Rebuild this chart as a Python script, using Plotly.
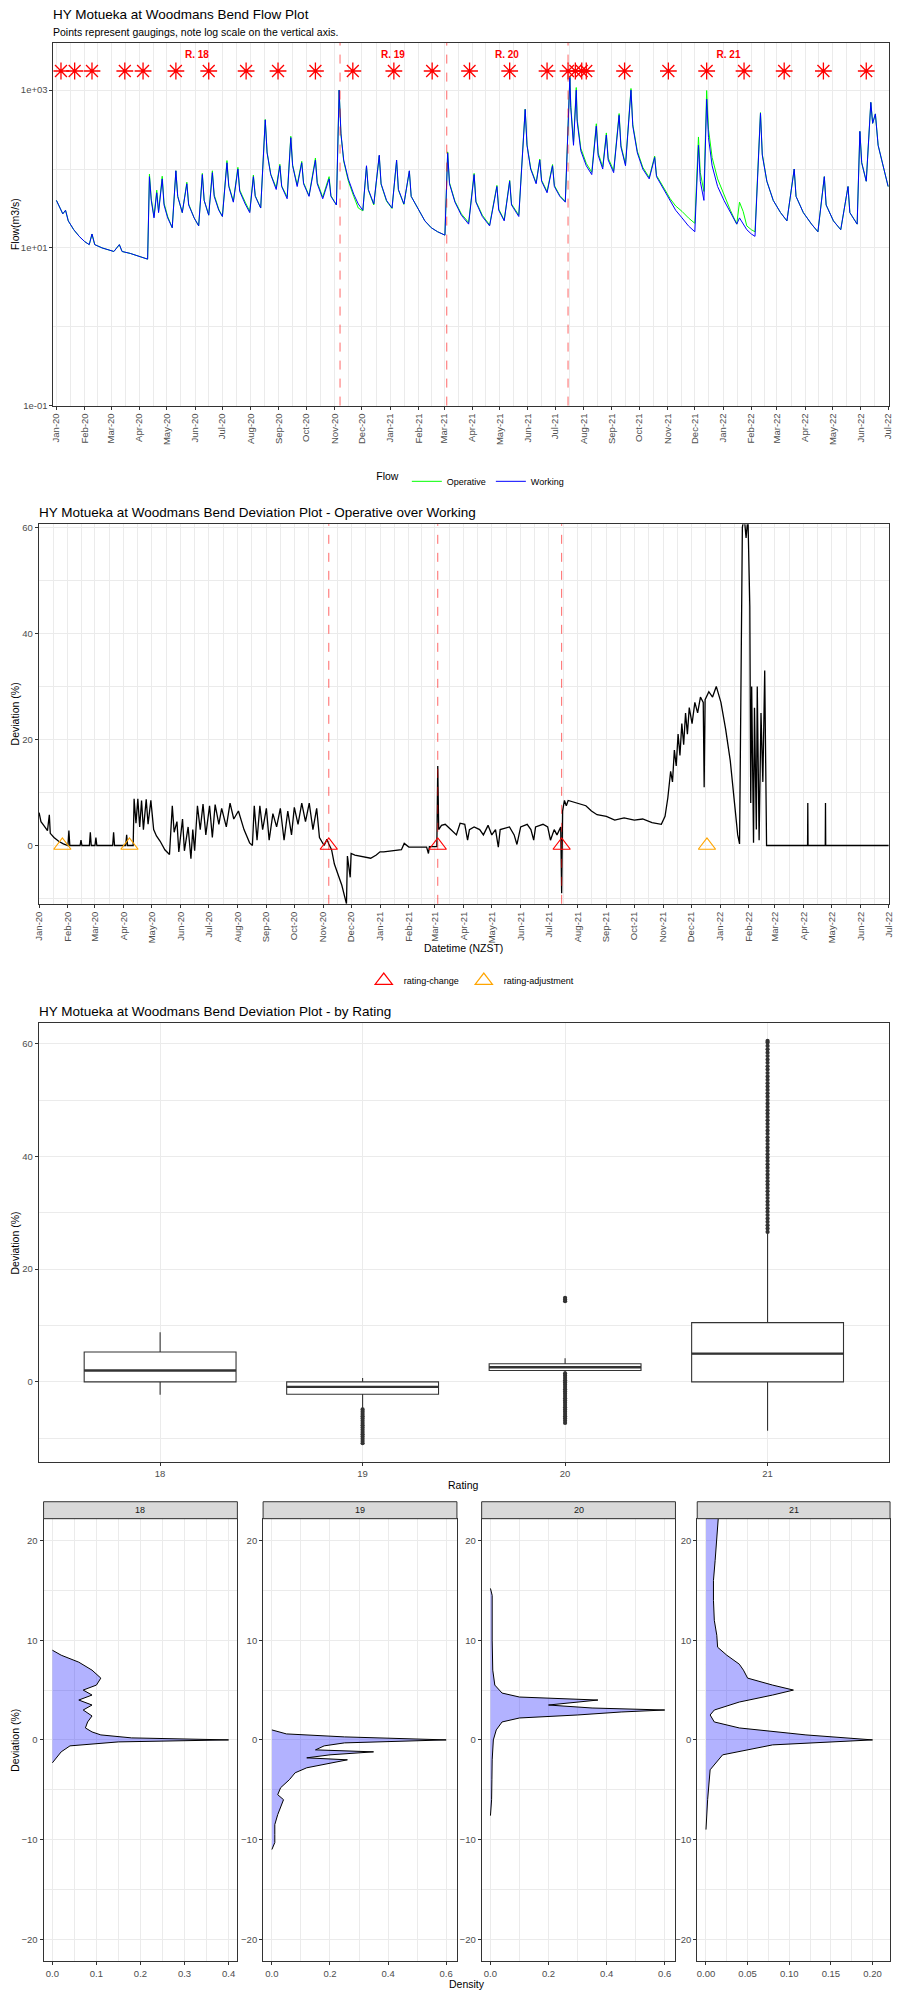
import plotly.graph_objects as go
import pandas as pd

W, H = 900, 2000
FONT = "Liberation Sans, Arial, sans-serif"
GRID = "#EBEBEB"
AXC = "#333333"
TICKC = "#4D4D4D"

# ---------------- Flow plot data ----------------
flow_dates = ["2020-01-01","2020-01-04","2020-01-08","2020-01-11","2020-01-14","2020-01-20","2020-01-26","2020-02-01","2020-02-06","2020-02-09",
"2020-02-12","2020-02-20","2020-02-27","2020-03-04","2020-03-10","2020-03-13","2020-03-22","2020-03-30","2020-04-06","2020-04-10",
"2020-04-12","2020-04-14","2020-04-17","2020-04-20","2020-04-22","2020-04-26","2020-04-28","2020-05-02","2020-05-07","2020-05-11",
"2020-05-13","2020-05-18","2020-05-23","2020-05-25","2020-05-31","2020-06-05","2020-06-09","2020-06-11","2020-06-16","2020-06-20",
"2020-06-22","2020-06-27","2020-07-01","2020-07-06","2020-07-08","2020-07-13","2020-07-18","2020-07-20","2020-07-26","2020-07-31",
"2020-08-04","2020-08-06","2020-08-12","2020-08-17","2020-08-19","2020-08-23","2020-08-29","2020-09-02","2020-09-04","2020-09-10",
"2020-09-14","2020-09-16","2020-09-21","2020-09-26","2020-09-28","2020-10-04","2020-10-11","2020-10-13","2020-10-19","2020-10-26",
"2020-10-28","2020-11-03","2020-11-06","2020-11-08","2020-11-11","2020-11-16","2020-11-22","2020-11-27","2020-12-02","2020-12-06",
"2020-12-08","2020-12-14","2020-12-20","2020-12-22","2020-12-28","2021-01-03","2021-01-08","2021-01-10","2021-01-16","2021-01-22",
"2021-01-24","2021-02-01","2021-02-08","2021-02-15","2021-02-22","2021-03-02","2021-03-05","2021-03-07","2021-03-13","2021-03-20",
"2021-03-28","2021-04-03","2021-04-05","2021-04-12","2021-04-20","2021-04-28","2021-04-30","2021-05-06","2021-05-12","2021-05-14",
"2021-05-22","2021-05-29","2021-05-31","2021-06-04","2021-06-10","2021-06-14","2021-06-16","2021-06-22","2021-06-28","2021-06-30",
"2021-07-06","2021-07-12","2021-07-15","2021-07-17","2021-07-18","2021-07-21","2021-07-24","2021-07-25","2021-07-29","2021-08-04",
"2021-08-10","2021-08-15","2021-08-17","2021-08-22","2021-08-26","2021-08-28","2021-09-03","2021-09-09","2021-09-11","2021-09-16",
"2021-09-22","2021-09-24","2021-09-29","2021-10-05","2021-10-12","2021-10-18","2021-10-20","2021-10-28","2021-11-04","2021-11-10",
"2021-11-17","2021-11-24","2021-12-01","2021-12-05","2021-12-07","2021-12-11","2021-12-14","2021-12-16","2021-12-20","2021-12-26",
"2022-01-02","2022-01-09","2022-01-16","2022-01-19","2022-01-23","2022-01-27","2022-02-01","2022-02-05","2022-02-11","2022-02-13",
"2022-02-18","2022-02-25","2022-03-05","2022-03-12","2022-03-20","2022-03-22","2022-03-30","2022-04-08","2022-04-15","2022-04-22",
"2022-04-24","2022-05-02","2022-05-10","2022-05-18","2022-05-20","2022-05-28","2022-05-31","2022-06-02","2022-06-07","2022-06-12",
"2022-06-14","2022-06-17","2022-06-20","2022-06-26","2022-07-01"]
flow_working = [40,33,27,30,22,17,14,12,11,15,
11,10,9.5,9,11,9,8.5,8,7.5,7.2,
80,40,24,50,28,75,35,24,18,95,
45,28,65,35,24,19,85,40,26,90,
45,30,25,120,60,38,100,52,36,28,
80,45,32,420,160,85,55,110,60,42,
250,110,60,120,65,45,130,65,42,75,
45,35,1000,280,130,75,48,36,30,110,
55,36,150,65,40,32,130,55,36,95,
45,30,22,18,16,14.5,160,65,38,26,
20,85,38,25,19,60,30,22,70,35,
25,570,200,100,65,130,70,50,110,60,
45,38,330,1450,600,200,1000,400,170,110,
85,350,150,100,270,130,90,480,190,110,
1000,350,160,100,75,140,80,55,40,30,
24,19,16,200,70,40,770,250,110,60,
40,28,20,24,20,17,15,14,510,150,
70,40,28,22,100,45,28,20,16,80,
35,22,17,60,28,20,300,120,70,700,
380,500,200,100,60]
flow_operative = [40,33,27,30,22,17,14,12,11,15,
11,10,9.5,9,11,9,8.5,8,7.5,7.2,
86,42,25,54,29,81,37,25,18,95,
45,28,68,36,24,19,88,40,26,95,
47,31,25,128,62,39,105,54,38,29,
84,46,32,425,165,86,58,115,61,44,
260,112,63,125,67,46,138,68,44,80,
46,35,1005,278,126,71,45,32,29.5,108,
54,35,147,64,39,31.6,128,54,35.6,94,
45,30,22,18,16,14.5,165,67,39,27,
21,88,39,26,19.5,62,31,22.5,72,36,
26,575,204,103,67,134,72,52,114,62,
46,39,300,1500,640,216,1080,432,183,118,
91,375,160,106,287,138,95,505,200,115,
1050,367,168,105,78,146,83,57,42,34,
29,24,20.5,255,90,52,990,320,140,75,
47,30,20,38,29,19,17,16,520,155,
70,40,28,22,100,45,28,20,16,80,
35,22,17,60,28,20,300,120,70,700,
380,500,200,100,60]

gauging_dates = ["2020-01-06","2020-01-21","2020-02-09","2020-03-16","2020-04-05","2020-05-11","2020-06-16","2020-07-27",
"2020-08-31","2020-10-11","2020-11-21","2021-01-05","2021-02-16","2021-03-29","2021-05-12","2021-06-22","2021-07-15",
"2021-07-23","2021-07-30","2021-08-04","2021-09-15","2021-11-02","2021-12-14","2022-01-24","2022-03-09","2022-04-21","2022-06-07"]
gauging_level = 1750

rating_change_dates = ["2020-11-07", "2021-03-04", "2021-07-15"]
rating_labels = ["R. 18", "R. 19", "R. 20", "R. 21"]
rating_label_dates = ["2020-06-03", "2021-01-04", "2021-05-09", "2022-01-07"]
rating_label_level = 2750

# ---------------- Deviation plot data ----------------
dev_dates = ["2020-01-01","2020-01-03","2020-01-06","2020-01-08","2020-01-10","2020-01-12","2020-01-13","2020-01-17","2020-01-22","2020-01-27",
"2020-02-01","2020-02-02","2020-02-03","2020-02-14","2020-02-15","2020-02-16","2020-02-24","2020-02-25","2020-02-26","2020-03-01",
"2020-03-02","2020-03-03","2020-03-20","2020-03-21","2020-03-22","2020-04-03","2020-04-04","2020-04-05","2020-04-11","2020-04-12",
"2020-04-14","2020-04-16","2020-04-18","2020-04-20","2020-04-22","2020-04-25","2020-04-27","2020-04-30","2020-05-03","2020-05-06",
"2020-05-10","2020-05-15","2020-05-20","2020-05-23","2020-05-25","2020-05-28","2020-05-30","2020-06-03","2020-06-05","2020-06-09",
"2020-06-12","2020-06-14","2020-06-16","2020-06-19","2020-06-22","2020-06-25","2020-06-28","2020-07-02","2020-07-05","2020-07-08",
"2020-07-12","2020-07-15","2020-07-20","2020-07-24","2020-07-28","2020-08-02","2020-08-08","2020-08-14","2020-08-17","2020-08-19",
"2020-08-22","2020-08-25","2020-08-28","2020-09-01","2020-09-04","2020-09-08","2020-09-12","2020-09-16","2020-09-20","2020-09-24",
"2020-09-28","2020-10-01","2020-10-05","2020-10-09","2020-10-13","2020-10-17","2020-10-21","2020-10-25","2020-10-28","2020-11-02",
"2020-11-05","2020-11-07","2020-11-10","2020-11-13","2020-11-17","2020-11-21","2020-11-26","2020-11-27","2020-11-30","2020-12-01",
"2020-12-05","2020-12-15","2020-12-22","2020-12-28","2021-01-01","2021-01-05","2021-01-15","2021-01-24","2021-01-27","2021-02-01",
"2021-02-20","2021-02-22","2021-02-23","2021-03-03","2021-03-04","2021-03-05","2021-03-08","2021-03-12","2021-03-18","2021-03-24",
"2021-03-28","2021-04-02","2021-04-05","2021-04-07","2021-04-12","2021-04-18","2021-04-22","2021-04-27","2021-05-01","2021-05-05",
"2021-05-08","2021-05-10","2021-05-20","2021-05-25","2021-05-28","2021-06-01","2021-06-08","2021-06-12","2021-06-15","2021-06-17",
"2021-06-25","2021-06-30","2021-07-03","2021-07-07","2021-07-10","2021-07-14","2021-07-15","2021-07-16","2021-07-18","2021-07-20",
"2021-07-22","2021-08-01","2021-08-10","2021-08-16","2021-08-22","2021-09-01","2021-09-10","2021-09-20","2021-10-01","2021-10-10",
"2021-10-20","2021-10-30","2021-11-03","2021-11-06","2021-11-09","2021-11-11","2021-11-13","2021-11-15","2021-11-17","2021-11-19",
"2021-11-21","2021-11-23","2021-11-25","2021-11-27","2021-11-29","2021-12-02","2021-12-05","2021-12-08","2021-12-11","2021-12-14",
"2021-12-15","2021-12-16","2021-12-20","2021-12-24","2021-12-28","2022-01-02","2022-01-07","2022-01-12","2022-01-17","2022-01-20",
"2022-01-22","2022-01-25","2022-01-27","2022-01-29","2022-01-31","2022-02-02","2022-02-03","2022-02-04","2022-02-06","2022-02-07",
"2022-02-09","2022-02-10","2022-02-12","2022-02-14","2022-02-16","2022-02-18","2022-02-20",
"2022-04-05","2022-04-05 06:00","2022-04-05 12:00","2022-04-24","2022-04-24 06:00","2022-04-24 12:00","2022-07-01"]
dev_values = [6.2,4.5,3.8,3.2,2.8,5.8,2.3,1.5,0.8,0.3,
0,2.8,0,0,1.0,0,0,2.5,0,0,
1.5,0,0,2.5,0,0,2.0,0,0,8.8,
4.2,8.8,3.5,8.5,3.0,8.7,4.0,8.5,3.0,1.8,
0.8,-0.8,-1.7,7.5,2.5,4.5,-1.2,5.0,-1.0,3.5,
-2.5,3.0,-1.0,7.5,3.0,7.8,2.0,7.5,1.5,7.7,
4.0,7.0,3.5,8.0,5.0,6.5,3.0,0.5,0,7.5,
1.0,7.5,3.0,7.0,1.0,6.0,3.5,7.0,1.0,6.5,
2.0,7.2,4.0,8.0,4.5,8.0,3.0,7.0,1.5,0,
1.2,0.3,-0.8,-3.5,-5.5,-7.5,-11.0,-2.0,-6.0,-1.5,
-1.8,-2.2,-2.4,-1.8,-1.2,-1.2,-1.0,-0.8,0.4,-0.3,
-0.3,-1.5,-0.2,-0.2,15.0,3.0,3.8,4.0,3.0,2.0,
4.2,4.0,1.0,3.0,3.5,3.0,2.0,3.8,2.0,3.0,
-0.3,3.0,3.5,2.0,0.2,3.5,4.0,3.0,1.0,3.5,
4.0,3.5,1.0,3.0,2.0,3.5,-9.0,6.5,8.5,7.5,
8.5,8.0,7.5,6.5,5.8,5.5,4.8,5.2,4.8,5.0,
4.3,4.0,5.5,9.0,14.0,12.0,18.0,15.0,21.0,17.0,
23.0,19.0,25.0,21.0,26.0,23.0,27.0,25.0,28.0,27.0,
11.0,27.5,29.0,28.0,30.0,27.0,22.0,16.0,8.0,2.0,
0.3,60.0,62.0,58.0,62.0,45.0,8.0,30.0,0.5,26.0,
3.0,30.0,1.0,25.0,12.0,33.0,0,
0,8.0,0,0,8.0,0,0]

adjust_dates = ["2020-01-26", "2020-04-07", "2021-12-18"]

# ---------------- Box plot data (by rating) ----------------
rating_cats = ["18", "19", "20", "21"]
rating_pos = [1, 2, 3, 4]
box_q1 = [0.0, -2.2, 2.0, 0.0]
box_median = [2.0, -0.9, 2.6, 5.0]
box_q3 = [5.3, 0.0, 3.2, 10.5]
box_low = [-2.3, -4.9, 1.7, -8.7]
box_high = [8.8, 0.7, 4.2, 26.5]
out19 = [-4.9,-5.3,-5.7,-6.1,-6.5,-6.9,-7.3,-7.7,-8.1,-8.5,-8.9,-9.3,-9.7,-10.1,-10.5,-10.9]
out20 = [-7.3,-6.9,-6.5,-6.1,-5.7,-5.3,-4.9,-4.5,-4.1,-3.7,-3.3,-2.9,-2.5,-2.1,-1.7,-1.3,-0.9,-0.5,-0.1,0.3,0.7,1.1,1.5,
         14.3,14.6,14.9]
out21 = [26.6,27.2,27.8,28.4,29.0,29.6,30.2,30.8,31.4,32.0,32.6,33.2,33.8,34.4,35.0,35.6,36.2,36.8,37.4,38.0,
         38.6,39.2,39.8,40.4,41.0,41.6,42.2,42.8,43.4,44.0,44.6,45.2,45.8,46.4,47.0,47.6,48.2,48.8,49.4,50.0,
         50.6,51.2,51.8,52.4,53.0,53.6,54.2,54.8,55.4,56.0,56.6,57.2,57.8,58.4,59.0,59.6,60.2,60.5]
box_width = 0.75

# ---------------- Density data (by rating) ----------------
dens18_dev = [-2.3,-1.8,-1.2,-0.6,-0.2,0.0,0.2,0.5,0.8,1.2,1.8,2.4,3.0,3.5,4.0,4.5,5.0,5.5,6.2,7.0,7.8,8.5,9.0]
dens18_den = [0.0,0.01,0.02,0.04,0.15,0.40,0.18,0.11,0.09,0.075,0.08,0.09,0.07,0.09,0.06,0.09,0.07,0.10,0.11,0.09,0.06,0.02,0.0]
dens19_dev = [-11.0,-10.3,-9.5,-8.5,-7.5,-6.8,-6.0,-5.5,-4.8,-4.0,-3.3,-2.8,-2.3,-2.0,-1.8,-1.5,-1.2,-1.0,-0.6,-0.3,0.0,0.3,0.6,1.0]
dens19_den = [0.0,0.01,0.01,0.01,0.02,0.03,0.04,0.02,0.03,0.06,0.08,0.12,0.2,0.26,0.12,0.2,0.35,0.15,0.18,0.25,0.6,0.25,0.05,0.0]
dens20_dev = [-7.6,-6.0,-4.0,-2.0,0.0,1.0,1.8,2.2,2.5,2.8,3.0,3.2,3.5,3.8,4.0,4.3,4.7,5.5,7.0,10.0,13.0,14.5,15.2]
dens20_den = [0.0,0.004,0.005,0.006,0.01,0.02,0.04,0.1,0.3,0.45,0.6,0.35,0.2,0.3,0.37,0.1,0.04,0.015,0.008,0.006,0.005,0.006,0.0]
dens21_dev = [-9.0,-6.0,-3.0,-1.5,-0.5,0.0,0.5,1.2,1.8,2.5,3.0,3.8,4.5,5.0,5.5,6.2,7.0,7.6,8.5,9.3,10.5,12.0,14.0,16.0,18.0,20.0,22.5]
dens21_den = [0.0,0.002,0.005,0.02,0.08,0.2,0.12,0.04,0.01,0.005,0.01,0.04,0.08,0.105,0.08,0.05,0.045,0.04,0.025,0.014,0.013,0.01,0.009,0.009,0.011,0.013,0.015]

# ---------------- helpers ----------------
def xd(l, r):
    return [l / W, r / W]

def yd(t, b):
    return [1 - b / H, 1 - t / H]

def base_axis(**kw):
    d = dict(showline=True, mirror=True, linecolor=AXC, linewidth=1,
             ticks="outside", ticklen=3, tickcolor=AXC, tickwidth=1,
             showgrid=True, gridcolor=GRID, gridwidth=1, zeroline=False,
             ticklabeloverflow="allow",
             tickfont=dict(family=FONT, size=9.5, color=TICKC))
    d.update(kw)
    return d

month_ticks = [t.strftime("%Y-%m-%d") for t in pd.date_range("2020-01-01", "2022-07-01", freq="MS")]
mts = pd.to_datetime(month_ticks)
mid_ticks = [(mts[i] + (mts[i + 1] - mts[i]) / 2).strftime("%Y-%m-%d %H:%M") for i in range(len(mts) - 1)]
mid_ticks = ["2019-12-16 12:00"] + mid_ticks

fig = go.Figure()

# ---- Panel 1: flow ----
fig.add_trace(go.Scatter(x=flow_dates, y=flow_operative, mode="lines", name="Operative",
                         line=dict(color="#00FF00", width=1), xaxis="x", yaxis="y", legend="legend"))
fig.add_trace(go.Scatter(x=flow_dates, y=flow_working, mode="lines", name="Working",
                         line=dict(color="#0000FF", width=1), xaxis="x", yaxis="y", legend="legend"))
fig.add_trace(go.Scatter(x=gauging_dates, y=[gauging_level] * len(gauging_dates), mode="markers",
                         marker=dict(symbol="asterisk-open", size=14, color="red", line=dict(color="red", width=1.3)),
                         showlegend=False, xaxis="x", yaxis="y"))
fig.add_trace(go.Scatter(x=rating_label_dates, y=[rating_label_level] * len(rating_label_dates), mode="text",
                         text=["<b>%s</b>" % t for t in rating_labels],
                         textfont=dict(family=FONT, size=10, color="red"), showlegend=False, xaxis="x", yaxis="y"))

# ---- Panel 2: deviation ----
fig.add_trace(go.Scatter(x=dev_dates, y=dev_values, mode="lines", line=dict(color="black", width=1.3),
                         showlegend=False, xaxis="x2", yaxis="y2"))
fig.add_trace(go.Scatter(x=rating_change_dates, y=[0] * len(rating_change_dates), mode="markers", name="rating-change",
                         marker=dict(symbol="triangle-up-open", size=15, color="red", line=dict(width=1.2, color="red")),
                         xaxis="x2", yaxis="y2", legend="legend2"))
fig.add_trace(go.Scatter(x=adjust_dates, y=[0] * len(adjust_dates), mode="markers", name="rating-adjustment",
                         marker=dict(symbol="triangle-up-open", size=15, color="orange", line=dict(width=1.2, color="orange")),
                         xaxis="x2", yaxis="y2", legend="legend2"))

# ---- Panel 3: box ----
fig.add_trace(go.Box(x=rating_pos, q1=box_q1, median=box_median, q3=box_q3, lowerfence=box_low, upperfence=box_high,
                     fillcolor="white", line=dict(color=AXC, width=1.1), width=box_width, boxpoints=False,
                     whiskerwidth=0, showlegend=False, xaxis="x3", yaxis="y3"))
for pos, outs in ((2, out19), (3, out20), (4, out21)):
    fig.add_trace(go.Scatter(x=[pos] * len(outs), y=outs, mode="markers",
                             marker=dict(color=AXC, size=4.2), showlegend=False, xaxis="x3", yaxis="y3"))
for pos, med in zip(rating_pos, box_median):
    fig.add_trace(go.Scatter(x=[pos - box_width / 2, pos + box_width / 2], y=[med, med], mode="lines",
                             line=dict(color=AXC, width=2.4), showlegend=False, xaxis="x3", yaxis="y3",
                             hoverinfo="skip"))

# ---- Panel 4: densities ----
dens = [(dens18_dev, dens18_den), (dens19_dev, dens19_den), (dens20_dev, dens20_den), (dens21_dev, dens21_den)]
for i, (dv, dn) in enumerate(dens):
    ax = str(4 + i)
    fig.add_trace(go.Scatter(x=dn, y=dv, mode="lines", fill="tozerox", fillcolor="rgba(0,0,255,0.3)",
                             line=dict(color="black", width=1), showlegend=False, xaxis="x" + ax, yaxis="y" + ax))

shapes = []
for d in rating_change_dates:
    for xa, ya in (("x", "y"), ("x2", "y2")):
        shapes.append(dict(type="line", xref=xa, yref=ya + " domain", x0=d, x1=d, y0=0, y1=1,
                           line=dict(color="rgba(255,0,0,0.6)", width=1, dash="dash"), layer="above"))

mgrid = dict(showgrid=True, gridcolor=GRID, gridwidth=0.8, ticks="")
layout = dict(
    width=W, height=H, margin=dict(l=0, r=0, t=0, b=0),
    paper_bgcolor="white", plot_bgcolor="white",
    font=dict(family=FONT, color="black"),
    xaxis=base_axis(domain=xd(49, 894), anchor="y", type="date", range=["2019-12-28 18:00", "2022-07-02"],
                    tickvals=month_ticks, tickformat="%b-%y", tickangle=-90,
                    minor=dict(tickvals=mid_ticks, **mgrid)),
    yaxis=base_axis(domain=yd(41, 405), anchor="x", type="log", range=[-1, 3.6],
                    tickvals=[0.1, 10, 1000], ticktext=["1e-01", "1e+01", "1e+03"],
                    minor=dict(tickvals=[1, 100], **mgrid)),
    xaxis2=base_axis(domain=xd(34, 894), anchor="y2", type="date", range=["2019-12-31 12:00", "2022-07-01 12:00"],
                     tickvals=month_ticks, tickformat="%b-%y", tickangle=-90,
                     minor=dict(tickvals=mid_ticks, **mgrid)),
    yaxis2=base_axis(domain=yd(524, 905), anchor="x2", range=[-11.0, 60.6], tickvals=[0, 20, 40, 60],
                     minor=dict(tickvals=[-10, 10, 30, 50], **mgrid)),
    xaxis3=base_axis(domain=xd(34, 894), anchor="y3", range=[0.4, 4.6], tickvals=rating_pos, ticktext=rating_cats),
    yaxis3=base_axis(domain=yd(1025, 1465), anchor="x3", range=[-14.2, 63.6], tickvals=[0, 20, 40, 60],
                     minor=dict(tickvals=[-10, 10, 30, 50], **mgrid)),
    shapes=shapes,
    legend=dict(orientation="h", x=472 / W, xanchor="center", y=1 - 481 / H, yanchor="middle",
                title=dict(text="Flow", font=dict(size=10.5, family=FONT)),
                font=dict(size=9, family=FONT), bgcolor="rgba(0,0,0,0)", itemwidth=30),
    legend2=dict(orientation="h", x=472 / W, xanchor="center", y=1 - 982 / H, yanchor="middle",
                 font=dict(size=9, family=FONT), bgcolor="rgba(0,0,0,0)", itemwidth=30),
    showlegend=True,
)

dens_x = [(39, 235), (261, 457), (482, 678), (700, 895)]
dens_rng = [[-0.02, 0.42], [-0.0303, 0.637], [-0.0303, 0.637], [-0.0105, 0.221]]
dens_ticks = [([0, 0.1, 0.2, 0.3, 0.4], [0.05, 0.15, 0.25, 0.35], "%.1f"),
              ([0, 0.2, 0.4, 0.6], [0.1, 0.3, 0.5], "%.1f"),
              ([0, 0.2, 0.4, 0.6], [0.1, 0.3, 0.5], "%.1f"),
              ([0, 0.05, 0.10, 0.15, 0.20], [0.025, 0.075, 0.125, 0.175], "%.2f")]
annotations = []
for i in range(4):
    n = str(4 + i)
    l, r = dens_x[i]
    tv, mv, fmt = dens_ticks[i]
    layout["xaxis" + n] = base_axis(domain=xd(l, r), anchor="y" + n, range=dens_rng[i], tickvals=tv,
                                    ticktext=[fmt % v for v in tv], minor=dict(tickvals=mv, **mgrid))
    layout["yaxis" + n] = base_axis(domain=yd(1522, 1966), anchor="x" + n, range=[-22.2, 22.2],
                                    tickvals=[-20, -10, 0, 10, 20], minor=dict(tickvals=[-15, -5, 5, 15], **mgrid))
    shapes.append(dict(type="rect", xref="paper", yref="paper", x0=l / W, x1=r / W, y0=1 - 1522 / H, y1=1 - 1505 / H,
                       fillcolor="#D9D9D9", line=dict(color=AXC, width=1), layer="above"))
    annotations.append(dict(text=rating_cats[i], x=(l + r) / 2 / W, y=1 - 1513.5 / H, xref="paper", yref="paper",
                            showarrow=False, font=dict(size=9, color="#1A1A1A", family=FONT),
                            xanchor="center", yanchor="middle"))

def ann(text, x, y, size, angle=0, xanchor="left", color="black"):
    annotations.append(dict(text=text, x=x / W, y=1 - y / H, xref="paper", yref="paper", showarrow=False,
                            font=dict(size=size, family=FONT, color=color), textangle=angle,
                            xanchor=xanchor, yanchor="middle"))

ann("HY Motueka at Woodmans Bend Flow Plot", 47, 13, 13.5)
ann("Points represent gaugings, note log scale on the vertical axis.", 47, 30, 10.5)
ann("Flow(m3/s)", 10, 223, 10.5, angle=-90, xanchor="center")
ann("HY Motueka at Woodmans Bend Deviation Plot - Operative over Working", 32, 512, 13.5)
ann("Deviation (%)", 10, 714, 10.5, angle=-90, xanchor="center")
ann("Datetime (NZST)", 464, 949, 10.5, xanchor="center")
ann("HY Motueka at Woodmans Bend Deviation Plot - by Rating", 32, 1013, 13.5)
ann("Deviation (%)", 10, 1245, 10.5, angle=-90, xanchor="center")
ann("Rating", 464, 1488, 10.5, xanchor="center")
ann("Deviation (%)", 10, 1744, 10.5, angle=-90, xanchor="center")
ann("Density", 467, 1989, 10.5, xanchor="center")

layout["annotations"] = annotations
fig.update_layout(**layout)
fig.write_html("out.html", config={"displayModeBar": False},
               post_script="document.body.style.margin='0px';document.body.style.padding='0px';")
